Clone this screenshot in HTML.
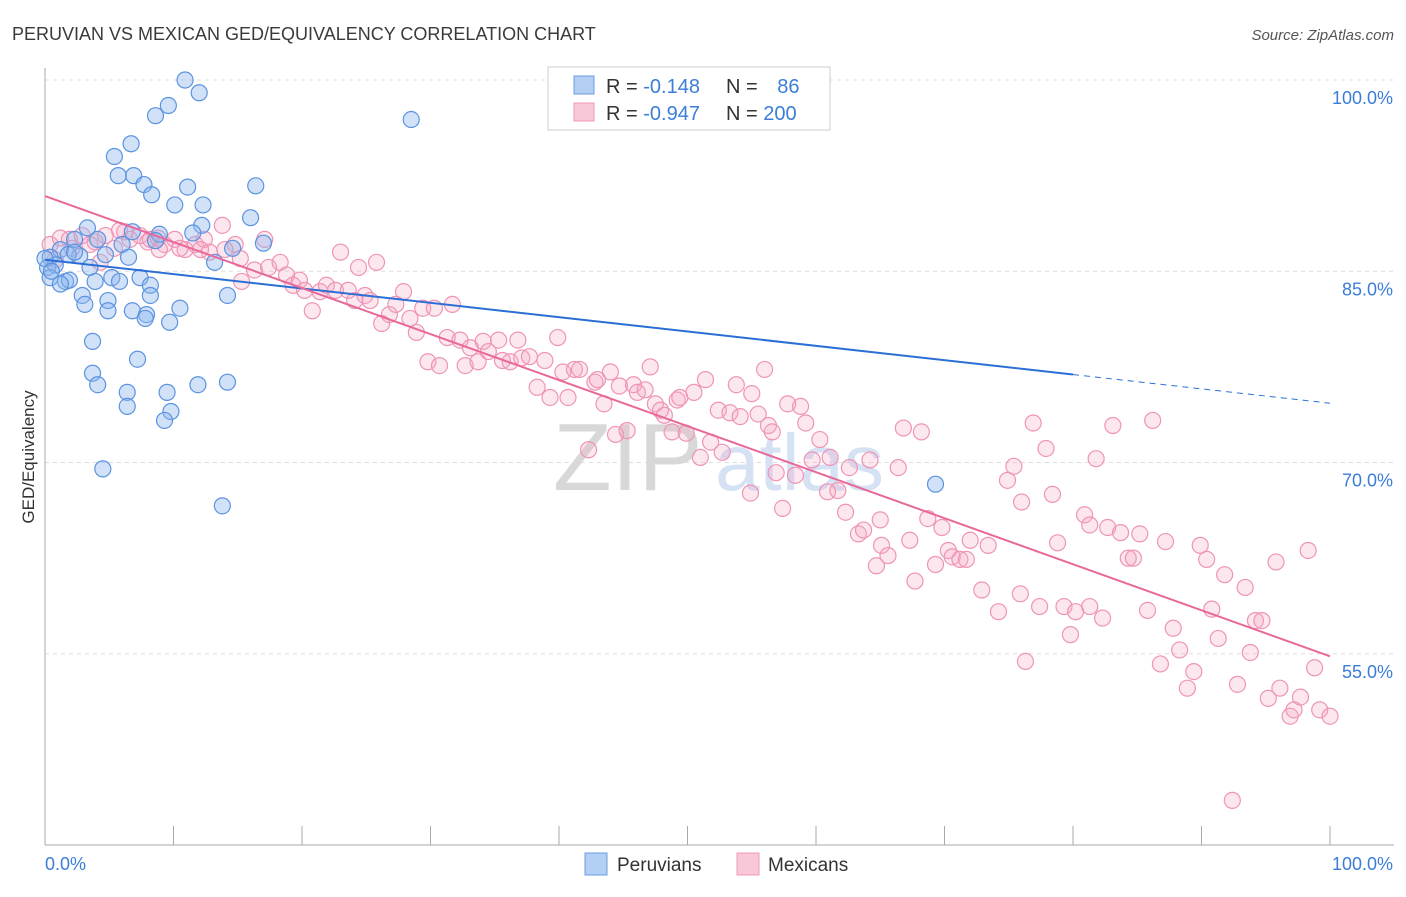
<!DOCTYPE html>
<html><head><meta charset="utf-8">
<style>
body{margin:0;background:#fff;font-family:"Liberation Sans",sans-serif;}
svg text{font-family:"Liberation Sans",sans-serif;}
</style></head>
<body>
<svg id="chart" width="1406" height="892" xmlns="http://www.w3.org/2000/svg">
<text x="12" y="40" font-size="18" fill="#3a3a3a">PERUVIAN VS MEXICAN GED/EQUIVALENCY CORRELATION CHART</text>
<text x="1394" y="40" font-size="15" fill="#555" text-anchor="end" font-style="italic">Source: ZipAtlas.com</text>
<g id="grid"></g>
<g>
<text x="553" y="490" font-size="96" fill="#d8d8d8" font-family="Liberation Serif, serif">ZIP</text>
<text x="715" y="490" font-size="80" fill="#d4e2f4">atlas</text>
</g>
<g id="marks"></g>
<text transform="translate(34,457) rotate(-90)" font-size="17" fill="#333" text-anchor="middle">GED/Equivalency</text>
<g>
<rect x="548" y="67" width="282" height="63" fill="#fff" stroke="#ccc"/>
<rect x="574" y="76" width="20" height="18" fill="#b3cff3" stroke="#6a9ce0"/>
<rect x="574" y="103" width="20" height="18" fill="#f9c8d8" stroke="#ee99b5"/>
<text x="606" y="93" font-size="20" fill="#333">R = <tspan fill="#3b7dd8">-0.148</tspan></text>
<text x="726" y="93" font-size="20" fill="#333">N = <tspan fill="#3b7dd8" dx="14">86</tspan></text>
<text x="606" y="120" font-size="20" fill="#333">R = <tspan fill="#3b7dd8">-0.947</tspan></text>
<text x="726" y="120" font-size="20" fill="#333">N = <tspan fill="#3b7dd8">200</tspan></text>
</g>
<g>
<rect x="585" y="853" width="22" height="22" fill="#b3cff3" stroke="#6a9ce0"/>
<text x="617" y="871" font-size="19" fill="#333">Peruvians</text>
<rect x="737" y="853" width="22" height="22" fill="#f9c8d8" stroke="#ee99b5"/>
<text x="768" y="871" font-size="19" fill="#333">Mexicans</text>
</g>
</svg>
<script>
const yTickValues=[100,85,70,55];
const yTickLabels=["100.0%","85.0%","70.0%","55.0%"];
const xTickValues=[0,10,20,30,40,50,60,70,80,90,100];
const peruX=[10.9,12.0,9.6,8.6,28.5,6.7,5.4,5.7,6.9,7.7,8.3,11.1,16.4,10.1,12.3,16.0,12.2,3.3,11.5,8.9,6.8,2.3,4.1,6.0,17.0,14.6,8.6,1.2,0.4,2.7,4.7,6.5,13.2,0.2,0.8,3.5,5.2,7.4,0.4,1.6,1.9,3.9,8.2,5.8,2.9,8.2,14.2,3.1,4.9,10.5,4.9,6.8,7.9,7.8,9.7,3.7,7.2,3.7,4.1,6.4,9.5,11.9,14.2,6.4,9.8,9.3,4.5,69.3,13.8,0,0.5,1.2,1.8,2.3];
const peruY=[100,99.0,98.0,97.2,96.9,95.0,94.0,92.5,92.5,91.8,91.0,91.6,91.7,90.2,90.2,89.2,88.6,88.4,88.0,87.9,88.1,87.5,87.5,87.1,87.2,86.8,87.4,86.7,86.1,86.2,86.3,86.1,85.7,85.3,85.5,85.3,84.5,84.5,84.5,84.2,84.3,84.2,83.9,84.2,83.1,83.1,83.1,82.4,82.7,82.1,81.9,81.9,81.6,81.3,81.0,79.5,78.1,77.0,76.1,75.5,75.5,76.1,76.3,74.4,74.0,73.3,69.5,68.3,66.6,86,85,84,86.3,86.5];
const mexX=[0.4,1.2,1.9,2.9,3.9,4.7,5.4,6.2,6.6,7.4,8.0,8.8,9.3,10.1,10.9,11.7,12.4,12.8,13.8,14.8,15.2,0.8,2.1,3.5,4.3,5.8,8.2,10.5,8.9,12.1,14.0,17.1,15.3,16.3,17.4,18.3,18.8,19.3,19.8,20.2,20.8,21.4,21.9,22.6,23.0,23.6,24.1,24.4,24.9,25.3,25.8,26.2,26.8,27.3,27.9,28.4,28.9,29.4,29.8,30.3,30.7,31.3,31.7,32.3,32.7,33.1,33.7,34.1,34.5,35.3,35.6,36.2,36.8,37.1,37.7,38.3,38.9,39.3,39.9,40.3,40.7,41.2,41.6,42.3,42.8,43.0,43.5,44.0,44.4,44.7,45.3,45.8,46.1,46.7,47.1,47.5,47.9,48.2,48.8,49.2,49.4,49.9,50.5,51.0,51.4,51.8,52.4,52.7,53.3,53.8,54.1,54.9,55.0,55.5,56.0,56.3,56.6,56.9,57.4,57.8,58.4,58.8,59.2,59.7,60.3,60.9,61.1,61.7,62.3,62.6,63.3,63.7,64.2,64.7,65.1,65.6,66.4,66.8,67.3,67.7,68.2,68.7,69.3,69.8,70.3,70.6,71.2,71.7,72.0,72.9,73.4,74.2,74.9,75.4,75.9,76.3,76.9,77.4,77.9,78.4,78.8,79.3,79.8,80.2,80.9,81.3,81.8,82.3,82.7,83.1,83.7,84.3,84.7,85.2,85.8,86.2,86.8,87.2,87.8,88.3,88.9,89.4,89.9,90.4,90.8,91.3,91.8,92.4,92.8,93.4,93.8,94.2,94.7,95.2,95.8,96.1,96.9,97.2,97.7,98.3,98.8,99.2,100.0,76.0,81.3,65.0];
const mexY=[87.1,87.6,87.5,87.8,87.3,87.8,86.8,88.1,87.5,87.8,87.3,87.6,87.1,87.5,86.7,87.1,87.5,86.5,88.6,87.1,86.0,85.9,86.8,87.1,85.7,88.2,87.5,86.8,86.7,86.7,86.7,87.5,84.2,85.1,85.3,85.7,84.7,83.9,84.3,83.5,81.9,83.4,83.9,83.5,86.5,83.5,82.7,85.3,83.1,82.7,85.7,80.9,81.6,82.4,83.4,81.3,80.2,82.1,77.9,82.1,77.6,79.8,82.4,79.6,77.6,79.0,77.9,79.5,78.7,79.6,78.0,77.9,79.6,78.2,78.3,75.9,78.0,75.1,79.8,77.1,75.1,77.3,77.3,71.0,76.3,76.5,74.6,77.1,72.2,76.0,72.5,76.1,75.5,75.7,77.5,74.6,74.1,73.7,72.4,74.9,75.1,72.3,75.5,70.4,76.5,71.6,74.1,70.8,73.9,76.1,73.6,67.6,75.4,73.8,77.3,72.9,72.4,69.2,66.4,74.6,69.0,74.4,73.1,70.2,71.8,67.7,70.4,67.8,66.1,69.6,64.4,64.7,70.2,61.9,63.5,62.7,69.6,72.7,63.9,60.7,72.4,65.6,62.0,64.9,63.1,62.6,62.4,62.4,63.9,60.0,63.5,58.3,68.6,69.7,59.7,54.4,73.1,58.7,71.1,67.5,63.7,58.7,56.5,58.3,65.9,58.7,70.3,57.8,64.9,72.9,64.5,62.5,62.5,64.4,58.4,73.3,54.2,63.8,57.0,55.3,52.3,53.6,63.5,62.4,58.5,56.2,61.2,43.5,52.6,60.2,55.1,57.6,57.6,51.5,62.2,52.3,50.1,50.6,51.6,63.1,53.9,50.6,50.1,66.9,65.1,65.5];
const peruTrend=[85.9,74.65];
const mexTrend=[90.9,54.8];

const NS="http://www.w3.org/2000/svg";
const X=v=>45+v*12.85;
const Y=v=>80+(100-v)*12.75;
function mk(tag,attrs,parent){const e=document.createElementNS(NS,tag);for(const k in attrs)e.setAttribute(k,attrs[k]);parent.appendChild(e);return e;}
const grid=document.getElementById('grid'),marks=document.getElementById('marks');
yTickValues.forEach((v,i)=>{
  const l=mk('line',{x1:45,x2:1394,y1:Y(v),y2:Y(v),stroke:'#ddd','stroke-dasharray':'4,4'},grid);
  
  
  const t=mk('text',{x:1393,y:Y(v)+24,'font-size':18,fill:'#3b7dd8','text-anchor':'end'},grid);
  t.textContent=yTickLabels[i];
  
  
});
const ax=mk('line',{x1:45,x2:45,y1:68,y2:845,stroke:'#aaa'},grid);


const bx=mk('line',{x1:45,x2:1394,y1:845,y2:845,stroke:'#aaa'},grid);


xTickValues.forEach(v=>{
  const t=mk('line',{x1:X(v),x2:X(v),y1:826,y2:845,stroke:'#aaa'},grid);
  
  
});
const xl0=mk('text',{x:45,y:870,'font-size':18,fill:'#3b7dd8'},grid);xl0.textContent='0.0%';


const xl1=mk('text',{x:1393,y:870,'font-size':18,fill:'#3b7dd8','text-anchor':'end'},grid);xl1.textContent='100.0%';



mexX.forEach((x,i)=>{
  const c=mk('circle',{cx:X(x),cy:Y(mexY[i]),r:8,fill:'rgba(246,168,196,0.28)',stroke:'#ef94b4','stroke-width':1.2},marks);
  
  
});
peruX.forEach((x,i)=>{
  const c=mk('circle',{cx:X(x),cy:Y(peruY[i]),r:8,fill:'rgba(140,182,238,0.4)',stroke:'#5b93e0','stroke-width':1.2},marks);
  
  
});
const pAt=x=>peruTrend[0]+(peruTrend[1]-peruTrend[0])*x/100;
const l1=mk('line',{x1:X(0),y1:Y(pAt(0)),x2:X(80),y2:Y(pAt(80)),stroke:'#2b6fd6','stroke-width':2},marks);


const l2=mk('line',{x1:X(80),y1:Y(pAt(80)),x2:X(100),y2:Y(pAt(100)),stroke:'#2b6fd6','stroke-width':1,'stroke-dasharray':'6,5'},marks);


const l3=mk('line',{x1:X(0),y1:Y(mexTrend[0]),x2:X(100),y2:Y(mexTrend[1]),stroke:'#e8689a','stroke-width':2},marks);


</script>
</body></html>
